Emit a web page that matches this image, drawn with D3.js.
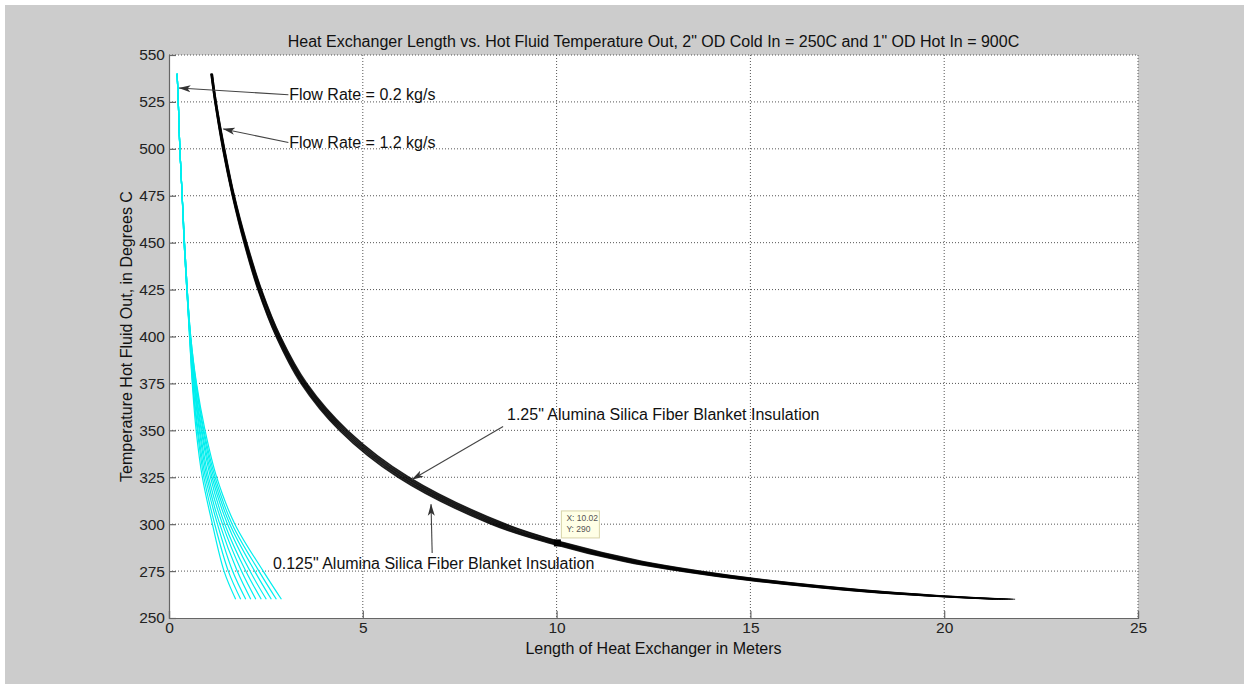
<!DOCTYPE html>
<html>
<head>
<meta charset="utf-8">
<script src="https://cdn.jsdelivr.net/npm/d3@7"></script>
<style>
  html, body { margin: 0; padding: 0; background: #ffffff; }
  svg { display: block; font-family: "Liberation Sans", Arial, sans-serif; }
</style>
</head>
<body>
<svg id="chart" width="1249" height="689"></svg>
<script>
// ---------------- DATA ----------------
const titleText = "Heat Exchanger Length vs. Hot Fluid Temperature Out, 2\" OD Cold In = 250C and 1\" OD Hot In = 900C";
const xLabelText = "Length of Heat Exchanger in Meters";
const yLabelText = "Temperature Hot Fluid Out, in Degrees C";

const xTicks = [0, 5, 10, 15, 20, 25];
const yTicks = [250, 275, 300, 325, 350, 375, 400, 425, 450, 475, 500, 525, 550];

// Flow rate = 0.2 kg/s (cyan family), hot fluid out temperatures (C)
const cyanTemps = [540, 525, 500, 475, 450, 425, 400, 375, 350, 325, 300, 275, 260];
// Lengths (m) for each insulation thickness, 0.125" ... 1.25"
const cyanLengths = [
  [0.21,0.24,0.28,0.34,0.39,0.46,0.53,0.60,0.70,0.86,1.12,1.42,1.72],
  [0.21,0.24,0.28,0.34,0.39,0.46,0.53,0.61,0.73,0.90,1.18,1.53,1.85],
  [0.21,0.24,0.28,0.34,0.39,0.46,0.54,0.62,0.75,0.94,1.25,1.64,1.98],
  [0.21,0.24,0.28,0.34,0.39,0.46,0.54,0.64,0.78,0.98,1.31,1.76,2.11],
  [0.21,0.24,0.28,0.34,0.39,0.46,0.54,0.65,0.80,1.02,1.38,1.87,2.24],
  [0.21,0.24,0.28,0.34,0.40,0.47,0.55,0.66,0.83,1.07,1.44,1.98,2.38],
  [0.21,0.24,0.28,0.34,0.40,0.47,0.55,0.67,0.85,1.11,1.51,2.09,2.51],
  [0.21,0.24,0.28,0.34,0.40,0.47,0.55,0.69,0.88,1.15,1.57,2.21,2.64],
  [0.21,0.24,0.28,0.34,0.40,0.47,0.56,0.70,0.90,1.19,1.63,2.32,2.77],
  [0.21,0.24,0.28,0.34,0.40,0.47,0.56,0.71,0.93,1.23,1.70,2.43,2.90]
];

// Flow rate = 1.2 kg/s (black family)
const blackTemps = [540, 525, 500, 475, 450, 425, 400, 375, 350, 325, 300, 290, 280, 275, 270, 265, 262, 260];
const blackLengths = [
  [1.08,1.18,1.38,1.63,1.93,2.29,2.76,3.40,4.39,5.90,8.30,9.78,11.75,13.18,14.96,17.35,19.33,21.27],
  [1.08,1.18,1.39,1.64,1.94,2.30,2.77,3.42,4.41,5.93,8.34,9.83,11.81,13.24,15.02,17.41,19.39,21.33],
  [1.09,1.19,1.39,1.64,1.95,2.31,2.79,3.44,4.44,5.97,8.39,9.88,11.86,13.30,15.08,17.47,19.45,21.39],
  [1.09,1.19,1.40,1.65,1.96,2.32,2.80,3.45,4.46,6.00,8.43,9.93,11.92,13.36,15.15,17.54,19.51,21.46],
  [1.10,1.20,1.41,1.66,1.97,2.33,2.81,3.47,4.49,6.03,8.48,9.98,11.97,13.42,15.21,17.60,19.57,21.52],
  [1.10,1.20,1.41,1.66,1.97,2.35,2.83,3.49,4.51,6.07,8.52,10.02,12.03,13.48,15.27,17.66,19.63,21.58],
  [1.11,1.21,1.42,1.67,1.98,2.36,2.84,3.51,4.54,6.10,8.57,10.07,12.08,13.54,15.33,17.72,19.69,21.64],
  [1.11,1.21,1.43,1.68,1.99,2.37,2.85,3.52,4.56,6.13,8.61,10.12,12.14,13.60,15.40,17.79,19.75,21.71],
  [1.12,1.22,1.43,1.68,2.00,2.38,2.87,3.54,4.59,6.17,8.66,10.17,12.19,13.66,15.46,17.85,19.81,21.77],
  [1.12,1.22,1.44,1.69,2.01,2.39,2.88,3.56,4.61,6.20,8.70,10.22,12.25,13.72,15.52,17.91,19.87,21.83]
];

// annotations: text anchor (left-middle) and arrow tail / tip in data units
const annTexts  = ["Flow Rate = 0.2 kg/s", "Flow Rate = 1.2 kg/s",
                   "1.25\" Alumina Silica Fiber Blanket Insulation",
                   "0.125\" Alumina Silica Fiber Blanket Insulation"];
const annTextPos = [[3.10, 528.8], [3.10, 503.4], [8.72, 358.4], [2.68, 279.3]];
const annTail    = [[3.08, 528.8], [3.08, 503.4], [8.62, 352.0], [6.79, 284.6]];
const annTip     = [[0.26, 532.4], [1.40, 510.6], [6.27, 323.8], [6.76, 310.6]];

// data tip
const dataTipPoint = [10.02, 290];

// ---------------- DRAW ----------------
const W = 1249, H = 689;
const plot = { left: 169, right: 1138, top: 55, bottom: 618 };
const FONT = "'Liberation Sans', Arial, sans-serif";

const svg = d3.select("#chart");
svg.append("rect").attr("x", 5).attr("y", 5).attr("width", W - 10).attr("height", H - 10)
  .attr("fill", "#cccccc");
svg.append("rect").attr("x", plot.left).attr("y", plot.top)
  .attr("width", plot.right - plot.left).attr("height", plot.bottom - plot.top)
  .attr("fill", "#ffffff");

const x = d3.scaleLinear().domain([0, 25]).range([plot.left, plot.right]);
const y = d3.scaleLinear().domain([250, 550]).range([plot.bottom, plot.top]);

// grid
const grid = svg.append("g").attr("class", "grid");
grid.selectAll("line.gx").data(xTicks.filter(t => t > 0)).join("line")
  .attr("x1", d => x(d)).attr("x2", d => x(d))
  .attr("y1", plot.top).attr("y2", plot.bottom)
  .attr("stroke", "#555").attr("stroke-width", 1).attr("stroke-dasharray", "1,2");
grid.selectAll("line.gy").data(yTicks.filter(t => t > 250)).join("line")
  .attr("class", "gy")
  .attr("x1", plot.left).attr("x2", plot.right)
  .attr("y1", d => y(d)).attr("y2", d => y(d))
  .attr("stroke", "#555").attr("stroke-width", 1).attr("stroke-dasharray", "1,2");

// axes
const xAxis = svg.append("g").attr("transform", `translate(0,${plot.bottom})`)
  .call(d3.axisBottom(x).tickValues(xTicks).tickSize(-7).tickPadding(4).tickFormat(d3.format("d")));
const yAxis = svg.append("g").attr("transform", `translate(${plot.left},0)`)
  .call(d3.axisLeft(y).tickValues(yTicks).tickSize(-7).tickPadding(4).tickFormat(d3.format("d")));
[xAxis, yAxis].forEach(g => {
  g.select(".domain").attr("stroke", "#666").attr("stroke-width", 1.2);
  g.selectAll(".tick line").attr("stroke", "#666").attr("stroke-width", 1.2);
  g.selectAll(".tick text").attr("fill", "#222").style("font-size", "15.5px")
    .style("font-family", FONT);
});

// curves
const line = d3.line().x(d => x(d[0])).y(d => y(d[1])).curve(d3.curveCatmullRom.alpha(0.5));
const curves = svg.append("g");
cyanLengths.forEach(arr => {
  curves.append("path")
    .attr("d", line(arr.map((v, i) => [v, cyanTemps[i]])))
    .attr("fill", "none").attr("stroke", "#00eeee").attr("stroke-width", 1.2);
});
blackLengths.forEach(arr => {
  curves.append("path")
    .attr("d", line(arr.map((v, i) => [v, blackTemps[i]])))
    .attr("fill", "none").attr("stroke", "#000").attr("stroke-width", 1.2)
    .attr("stroke-opacity", 0.8);
});

// arrow marker
svg.append("defs").append("marker")
  .attr("id", "arr").attr("viewBox", "0 0 12 8").attr("refX", 11.5).attr("refY", 4)
  .attr("markerWidth", 12).attr("markerHeight", 8).attr("markerUnits", "userSpaceOnUse")
  .attr("orient", "auto")
  .append("path").attr("d", "M0,0.5 L12,4 L0,7.5 L3,4 Z").attr("fill", "#333");

const ann = svg.append("g");
annTexts.forEach((t, i) => {
  ann.append("line")
    .attr("x1", x(annTail[i][0])).attr("y1", y(annTail[i][1]))
    .attr("x2", x(annTip[i][0])).attr("y2", y(annTip[i][1]))
    .attr("stroke", "#444").attr("stroke-width", 1.1).attr("marker-end", "url(#arr)");
  ann.append("text")
    .attr("x", x(annTextPos[i][0])).attr("y", y(annTextPos[i][1]))
    .attr("dy", "0.35em").attr("fill", "#111").style("font-size", "16px")
    .text(t);
});

// data tip
const dtx = x(dataTipPoint[0]), dty = y(dataTipPoint[1]);
svg.append("rect").attr("x", dtx - 3.5).attr("y", dty - 3.5).attr("width", 7).attr("height", 7)
  .attr("fill", "#000");
const tip = svg.append("g").attr("transform", `translate(${dtx + 4},${dty - 32})`);
tip.append("rect").attr("width", 38).attr("height", 27)
  .attr("fill", "#ffffe6").attr("stroke", "#d8d4a8").attr("stroke-width", 1);
tip.append("text").attr("x", 5).attr("y", 10.5).style("font-size", "8.5px").attr("fill", "#555")
  .text("X: " + dataTipPoint[0].toFixed(2));
tip.append("text").attr("x", 5).attr("y", 21.5).style("font-size", "8.5px").attr("fill", "#555")
  .text("Y: " + dataTipPoint[1]);

// title and labels
svg.append("text").attr("x", (plot.left + plot.right) / 2).attr("y", 41).attr("dy", "0.35em")
  .attr("text-anchor", "middle").attr("fill", "#111").style("font-size", "16px").text(titleText);
svg.append("text").attr("x", (plot.left + plot.right) / 2).attr("y", 648).attr("dy", "0.35em")
  .attr("text-anchor", "middle").attr("fill", "#111").style("font-size", "16px").text(xLabelText);
svg.append("text").attr("transform", `translate(126,${(plot.top + plot.bottom) / 2}) rotate(-90)`)
  .attr("dy", "0.35em").attr("text-anchor", "middle").attr("fill", "#111")
  .style("font-size", "16px").text(yLabelText);
</script>
</body>
</html>
